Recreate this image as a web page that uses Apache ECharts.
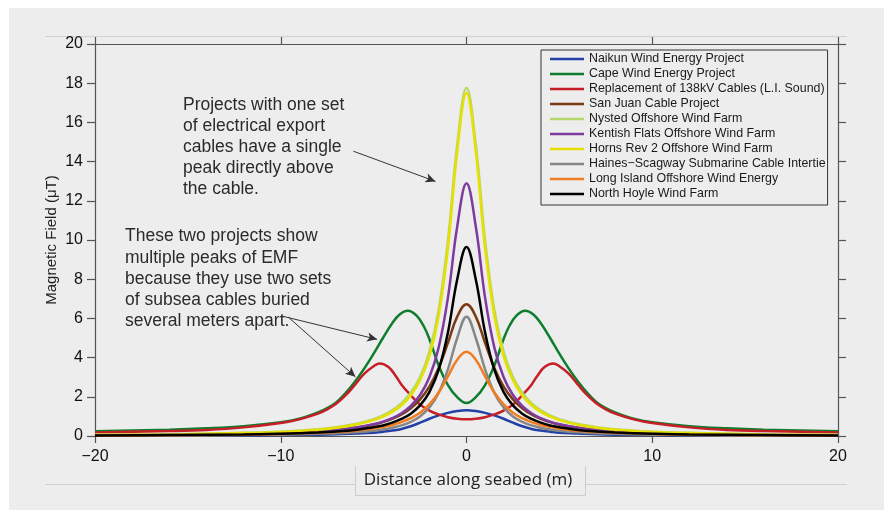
<!DOCTYPE html>
<html>
<head>
<meta charset="utf-8">
<script src="https://cdn.jsdelivr.net/npm/echarts@6/dist/echarts.min.js"></script>
<style>
  html, body { margin: 0; padding: 0; background: #fff; }
  #chart { width: 884px; height: 510px; }
</style>
</head>
<body>
<div id="chart"></div>
<script>
// distance along seabed (m), shared by the single-peak projects
var xs = [-20, -16, -12, -10, -8, -7, -6, -5, -4.5, -4, -3.5, -3, -2.5, -2, -1.5, -1, -0.5, 0,
          0.5, 1, 1.5, 2, 2.5, 3, 3.5, 4, 4.5, 5, 6, 7, 8, 10, 12, 16, 20];

// field values (uT)
var naikun = [0.02, 0.02, 0.04, 0.05, 0.07, 0.09, 0.13, 0.17, 0.22, 0.28, 0.36, 0.50, 0.68, 0.88, 1.05, 1.18, 1.27, 1.31,
              1.27, 1.18, 1.05, 0.88, 0.68, 0.50, 0.36, 0.28, 0.22, 0.17, 0.13, 0.09, 0.07, 0.05, 0.04, 0.02, 0.02];
var sanJuan = [0.04, 0.06, 0.11, 0.16, 0.24, 0.31, 0.42, 0.59, 0.71, 0.88, 1.10, 1.42, 1.87, 2.52, 3.47, 4.75, 6.09, 6.72,
               6.09, 4.75, 3.47, 2.52, 1.87, 1.42, 1.10, 0.88, 0.71, 0.59, 0.42, 0.31, 0.24, 0.16, 0.11, 0.06, 0.04];
var nysted = [0.06, 0.09, 0.16, 0.22, 0.35, 0.45, 0.61, 0.86, 1.05, 1.31, 1.68, 2.21, 3.01, 4.30, 6.43, 9.97, 14.86, 17.77,
              14.86, 9.97, 6.43, 4.30, 3.01, 2.21, 1.68, 1.31, 1.05, 0.86, 0.61, 0.45, 0.35, 0.22, 0.16, 0.09, 0.06];
var kentish = [0.04, 0.06, 0.11, 0.15, 0.24, 0.31, 0.42, 0.60, 0.73, 0.91, 1.16, 1.53, 2.09, 3.00, 4.51, 7.06, 10.69, 12.90,
               10.69, 7.06, 4.51, 3.00, 2.09, 1.53, 1.16, 0.91, 0.73, 0.60, 0.42, 0.31, 0.24, 0.15, 0.11, 0.06, 0.04];
var hornsRev = [0.05, 0.08, 0.15, 0.21, 0.32, 0.42, 0.57, 0.81, 0.99, 1.23, 1.57, 2.07, 2.84, 4.06, 6.12, 9.58, 14.50, 17.50,
                14.50, 9.58, 6.12, 4.06, 2.84, 2.07, 1.57, 1.23, 0.99, 0.81, 0.57, 0.42, 0.32, 0.21, 0.15, 0.08, 0.05];
var haines = [0.02, 0.03, 0.05, 0.07, 0.11, 0.14, 0.19, 0.27, 0.33, 0.42, 0.54, 0.72, 1.00, 1.45, 2.20, 3.40, 5.00, 6.09,
              5.00, 3.40, 2.20, 1.45, 1.00, 0.72, 0.54, 0.42, 0.33, 0.27, 0.19, 0.14, 0.11, 0.07, 0.05, 0.03, 0.02];
var longIsland = [0.03, 0.04, 0.07, 0.10, 0.16, 0.20, 0.27, 0.38, 0.46, 0.56, 0.71, 0.91, 1.19, 1.61, 2.22, 3.04, 3.89, 4.30,
                  3.89, 3.04, 2.22, 1.61, 1.19, 0.91, 0.71, 0.56, 0.46, 0.38, 0.27, 0.20, 0.16, 0.10, 0.07, 0.04, 0.03];
var northHoyle = [0.03, 0.05, 0.08, 0.12, 0.18, 0.23, 0.31, 0.45, 0.54, 0.68, 0.87, 1.14, 1.56, 2.24, 3.37, 5.28, 7.99, 9.64,
                  7.99, 5.28, 3.37, 2.24, 1.56, 1.14, 0.87, 0.68, 0.54, 0.45, 0.31, 0.23, 0.18, 0.12, 0.08, 0.05, 0.03];

// the two projects with two cable sets have their own x samples
var capeX = [-20, -16, -14, -12, -10, -9, -8, -7.5, -7, -6.5, -6, -5.5, -5, -4.5, -4, -3.6, -3.16, -2.7, -2.3, -2, -1.5, -1, -0.5, 0,
             0.5, 1, 1.5, 2, 2.3, 2.7, 3.16, 3.6, 4, 4.5, 5, 5.5, 6, 6.5, 7, 7.5, 8, 9, 10, 12, 14, 16, 20];
var capeWind = [0.24, 0.32, 0.39, 0.50, 0.70, 0.88, 1.20, 1.42, 1.72, 2.20, 2.78, 3.45, 4.20, 5.00, 5.75, 6.20, 6.39, 6.15, 5.60, 4.95, 3.60, 2.60, 1.98, 1.68,
                1.98, 2.60, 3.60, 4.95, 5.60, 6.15, 6.39, 6.20, 5.75, 5.00, 4.20, 3.45, 2.78, 2.20, 1.72, 1.42, 1.20, 0.88, 0.70, 0.50, 0.39, 0.32, 0.24];
var liX = [-20, -16, -14, -12, -10, -9, -8, -7.5, -7, -6.5, -6, -5.5, -5, -4.67, -4.2, -3.8, -3.5, -3, -2.5, -2, -1.5, -1, -0.5, 0,
           0.5, 1, 1.5, 2, 2.5, 3, 3.5, 3.8, 4.2, 4.67, 5, 5.5, 6, 6.5, 7, 7.5, 8, 9, 10, 12, 14, 16, 20];
var liSound = [0.18, 0.25, 0.31, 0.44, 0.66, 0.85, 1.14, 1.36, 1.66, 2.08, 2.62, 3.18, 3.56, 3.70, 3.52, 3.05, 2.62, 2.08, 1.60, 1.30, 1.10, 0.96, 0.88, 0.85,
               0.88, 0.96, 1.10, 1.30, 1.60, 2.08, 2.62, 3.05, 3.52, 3.70, 3.56, 3.18, 2.62, 2.08, 1.66, 1.36, 1.14, 0.85, 0.66, 0.44, 0.31, 0.25, 0.18];

var names = ['Naikun Wind Energy Project', 'Cape Wind Energy Project', 'Replacement of 138kV Cables (L.I. Sound)',
             'San Juan Cable Project', 'Nysted Offshore Wind Farm', 'Kentish Flats Offshore Wind Farm',
             'Horns Rev 2 Offshore Wind Farm', 'Haines\u2212Scagway Submarine Cable Intertie',
             'Long Island Offshore Wind Energy', 'North Hoyle Wind Farm'];
var colors = ['#2340a6', '#0e7d2e', '#c61f28', '#7a3b14', '#b7d66b', '#7e3a9f', '#e6e000', '#868686', '#f07d22', '#000000'];
var xVals = [xs, capeX, liX, xs, xs, xs, xs, xs, xs, xs];
var yVals = [naikun, capeWind, liSound, sanJuan, nysted, kentish, hornsRev, haines, longIsland, northHoyle];

// annotation arrows, [from, to] in data units
var arrows = [
    [[-6.09, 14.53], [-1.67, 12.99]],
    [[-9.94, 6.12], [-4.81, 4.93]],
    [[-9.60, 6.07], [-5.98, 3.02]]
];

var font = '"Liberation Sans", Arial, Helvetica, sans-serif';
var axisColor = '#555';

function pairs(x, y) {
    var out = [];
    for (var i = 0; i < x.length; i++) {
        out.push([x[i], y[i]]);
    }
    return out;
}

var series = [];
for (var i = 0; i < names.length; i++) {
    series.push({
        name: names[i],
        type: 'line',
        symbol: 'none',
        smooth: 0.4,
        data: pairs(xVals[i], yVals[i]),
        lineStyle: { width: 2.5, color: colors[i] },
        itemStyle: { color: colors[i] },
        z: 2 + i * 0.01
    });
}
// arrows ride on the last series
series[series.length - 1].markLine = {
    silent: true,
    animation: false,
    symbol: ['none', 'arrow'],
    symbolSize: [7, 10],
    label: { show: false },
    lineStyle: { color: '#333', width: 1, type: 'solid' },
    emphasis: { disabled: true },
    data: arrows.map(function (a) {
        return [{ coord: a[0] }, { coord: a[1] }];
    })
};

function xAxisOpt(pos) {
    return {
        type: 'value',
        position: pos,
        min: -20,
        max: 20,
        interval: 10,
        axisLine: { onZero: false, lineStyle: { color: axisColor, width: 1.2 } },
        axisTick: { length: 7, lineStyle: { color: axisColor, width: 1.2 } },
        axisLabel: {
            show: pos === 'bottom',
            margin: 13,
            fontSize: 16,
            fontFamily: font,
            color: '#111',
            formatter: function (v) { return String(v).replace('-', '\u2212'); }
        },
        splitLine: { show: false }
    };
}

function yAxisOpt(pos) {
    var o = {
        type: 'value',
        position: pos,
        min: 0,
        max: 20,
        interval: 2,
        axisLine: { show: true, onZero: false, lineStyle: { color: axisColor, width: 1.2 } },
        axisTick: { show: true, length: 8, lineStyle: { color: axisColor, width: 1.2 } },
        axisLabel: { show: pos === 'left', margin: 12, fontSize: 16, fontFamily: font, color: '#111' },
        splitLine: { show: false }
    };
    if (pos === 'left') {
        o.name = 'Magnetic Field (\u03bcT)';
        o.nameLocation = 'middle';
        o.nameGap = 36;
        o.nameMoveOverlap = false;
        o.nameTextStyle = { fontSize: 15, fontFamily: font, color: '#222' };
    }
    return o;
}

var chart = echarts.init(document.getElementById('chart'));
chart.setOption({
    animation: false,
    backgroundColor: '#ededed',
    grid: { left: 95, top: 44, right: 46, bottom: 74 },
    xAxis: [xAxisOpt('bottom'), xAxisOpt('top')],
    yAxis: [yAxisOpt('left'), yAxisOpt('right')],
    legend: {
        orient: 'vertical',
        left: 541,
        top: 50,
        data: names,
        icon: 'rect',
        itemWidth: 34,
        itemHeight: 2.5,
        itemGap: 1,
        padding: [2, 2, 4, 9],
        borderColor: '#333',
        borderWidth: 1,
        textStyle: { fontSize: 12.4, lineHeight: 14, fontFamily: font, color: '#1a1a1a' }
    },
    graphic: [
        // white strips of the screenshot edge
        { type: 'rect', shape: { x: 0, y: 0, width: 884, height: 8 }, style: { fill: '#fff' }, silent: true },
        { type: 'rect', shape: { x: 0, y: 0, width: 9, height: 510 }, style: { fill: '#fff' }, silent: true },
        // faint frame lines
        { type: 'line', shape: { x1: 45, y1: 36.5, x2: 847, y2: 36.5 }, style: { stroke: '#d2d2d2', lineWidth: 1 }, silent: true, z: -1 },
        { type: 'line', shape: { x1: 45, y1: 484.5, x2: 847, y2: 484.5 }, style: { stroke: '#d2d2d2', lineWidth: 1 }, silent: true, z: -1 },
        // pasted x-axis title box
        { type: 'rect', shape: { x: 355, y: 463, width: 230, height: 32 }, style: { fill: '#ededed' }, silent: true },
        { type: 'polyline', shape: { points: [[355.5, 466], [355.5, 495.5], [585.5, 495.5], [585.5, 466]] },
          style: { stroke: '#cdcdcd', fill: null, lineWidth: 1 }, silent: true },
        { type: 'text', x: 468, y: 480, silent: true,
          style: { text: 'Distance along seabed (m)', fontSize: 17, fontFamily: '"Open Sans", sans-serif',
                   fill: '#222', align: 'center', verticalAlign: 'middle' } },
        // annotations
        { type: 'text', x: 183, y: 94.5, silent: true,
          style: { text: 'Projects with one set\nof electrical export\ncables have a single\npeak directly above\nthe cable.',
                   fontSize: 17.5, fontFamily: font, fill: '#2b2b2b', lineHeight: 21, verticalAlign: 'top' } },
        { type: 'text', x: 125, y: 226, silent: true,
          style: { text: 'These two projects show\nmultiple peaks of EMF\nbecause they use two sets\nof subsea cables buried\nseveral meters apart.',
                   fontSize: 17.5, fontFamily: font, fill: '#2b2b2b', lineHeight: 21.2, verticalAlign: 'top' } }
    ],
    series: series
});
</script>
</body>
</html>
